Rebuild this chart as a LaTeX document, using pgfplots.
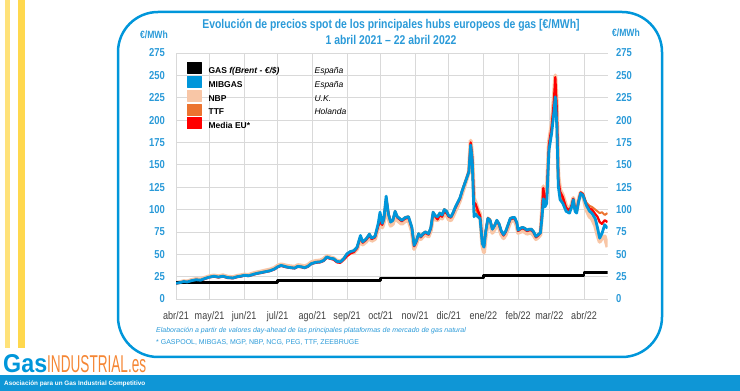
\documentclass[border=0pt]{standalone}
\usepackage{pgfplots}
\pgfplotsset{compat=1.18}
\usepackage{pgfplotstable}
\usepackage{fontspec}
\setmainfont{Liberation Sans}
\newfontfamily\narrow[FakeStretch=0.82]{Liberation Sans}
\definecolor{cblue}{HTML}{0096DA}
\definecolor{tblue}{HTML}{2A9AD8}
\definecolor{nbpc}{HTML}{F8C6A6}
\definecolor{ttfc}{HTML}{EC7430}
\definecolor{gridgray}{HTML}{D9D9D9}
\definecolor{labgray}{HTML}{404040}
\definecolor{yel}{HTML}{FFD84D}
\definecolor{orlogo}{HTML}{F58634}
\definecolor{band}{HTML}{0F96D6}

\pgfplotstableread{
d mib nbp ttf eu
0 17.5 17.8 17.6 17.4
4 18.5 18.9 18.6 18.3
7 19.5 19.9 19.6 19.3
10 19 19.6 19.2 18.7
14 20.5 21.2 20.7 20.2
18 21.5 22.3 21.7 21.2
22 21 21.8 21.2 20.5
26 23 23.8 23.2 22.6
30 24.5 25.4 24.8 24.2
34 25.5 26.3 25.7 25.1
38 24.5 25.3 24.7 24.1
42 25.5 26.5 25.8 25.2
46 24 24.9 24.2 23.6
51 23.5 24.4 23.8 23.2
55 25 25.9 25.3 24.6
58 25.5 26.4 25.8 25.1
61 26.5 27.2 26.8 26.1
65 26 26.9 26.3 25.7
69 27.5 28.6 27.8 27.1
72 28.5 29.6 28.9 28.2
76 29.5 30.6 29.9 29.1
80 30.5 31.8 30.9 30.2
84 31.5 32.9 32 31.2
88 33.5 34.6 33.9 33.1
91 36 37.3 36.4 35.6
94 37.5 38.6 37.8 37.1
97 36.5 37.8 36.9 36
100 35.5 36.9 35.9 35.2
103 35 36.4 35.4 34.7
106 34.5 35.9 34.9 34.2
109 36.5 37.8 36.9 36
112 36 37.4 36.4 35.6
115 35 36.5 35.5 34.6
118 36.5 38 37 36.1
121 39.5 41 40 39.1
125 41 42.5 41.4 40.5
129 41.5 43 42 41
132 43 44.6 43.5 42.5
135 47 48 47.2 46.3
138 45.5 46.5 45.8 45
141 45 45.5 45.2 44
144 42 42.8 42.3 41
147 41.5 42 41.8 40.5
150 45 44.5 45.2 44
153 50.5 49.5 50.6 48
156 53 51.5 53.2 51
159 54 52 54.3 52.5
162 58 56 58.4 57
165 71 67 70.5 69
167 64 61 64.5 63
170 67 64 67.5 66
173 72.5 69 72.8 71
175 68 65 68.5 67
178 70 67 70.5 69
181 85 80 83 82
182.5 97 88 94 86
184.5 84.6 80 85 83
186 90 86 90.5 89
188 115 108 114 112
190 95 91 96 96
192 86 82 87 86
194 88 84 89 88
196 98 93 98.5 97
198 92 88 92.5 91
200 90 86 90.5 89
202 88 84 88.5 87
205 91 87 91.5 90
208 92 88 92.5 91
211 80 76 80.5 79
213 60 56 61 59
215 65 62 66 64
217 73 70 73.5 72
219 70 67 70.5 69
221 73 70 73.5 72
223 75 72 75.5 74
226 73 70 73.5 72
228 80 77 80.5 79
230 97 93 97.5 96
232 93 89 93.5 92
234 92 88 92.5 89
236 96 92 96.5 94
238 94 90 94.5 92
240 100 96 100.5 98
242 98 94 98.5 96
244 93 89 93.5 92
246 92 88 92.5 91
248 97 93 97.5 96
250 103 99 103.5 102
252 108 104 108.5 107
254 113 110 113.5 112
256 121 118 121.5 121
258 128 126 128.5 128
260 135 134 135.5 135
262 142 142 142.5 143
263.6 172 177 174 175
265 155 160 157 158
266.6 92 112 100 108
268 95 108 100 106
270 92 100 96 99
272 90 95 92 93
274 62 60 63 64
275.5 58 52 59 58
277 75 70 76 75
279 90 86 91 90
281 88 84 89 88
283 78 74 79 78
285 82 78 83 82
287 88 84 88.5 87
289 84 80 84.5 83
291 76 72 76.5 75
293 72 68 72.5 71
295 76 72 76.5 75
297 83 79 83.5 82
299 90 86 90.5 89
301 91 88 91.5 90
303 91 88 91.5 90
305 85 81 85.5 84
306 77 74 77.5 76
308 79 75 79.5 78
310 80 76 80.5 79
312 79 75 79.5 78
314 77 73 77.5 76
316 78 74 78.5 77
318 78 74 78.5 77
320 75 71 75.5 74
322 70 67 70.5 69
324 72 69 72.5 71
326 74 72 74.5 74
327.5 92 100 96 100
328.6 112 126 118 124
330 103 112 106 108
331.6 107 116 110 113
333.6 166 175 170 172
336 185 195 190 192
338 208 225 215 220
339.3 226 250 240 248
340.7 193 215 205 210
342 126 138 130 134
343.6 111 122 115 120
346 107 116 110 114
349 98 104 101 102
352 96 100 98 99
354 103 106 104 105
355.4 111 113 112 112
357 98 101 100 100
358.4 96 99 98 98
360 108 110 109 109
362 118 119 119 119
364 116 116 118 117
367 105 100 108 106
370 98 92 104 101
372 96 90 103 100
375 90 82 100 95
377 80 72 98 92
379 68 64 96 86
381 73 68 97 84
383.5 83 70 94 88
386 79 58 96 86
}\prices

\begin{document}
\begin{tikzpicture}
\path[use as bounding box] (0,0) rectangle (740pt,391pt);
\begin{scope}[x=1pt,y=-1pt,yshift=391pt]
  \fill[yel!75] (5,0) rectangle (10,348);
  \fill[yel] (18,0) rectangle (25,348);
  \fill[band] (0,375) rectangle (740,391);
  \draw[cblue, line width=2.5pt, rounded corners=40pt] (118,12) rectangle (662,357);
  \node[anchor=west, inner sep=0pt, text=white] at (4,383.5) {\resizebox{141pt}{!}{\bfseries Asociación para un Gas Industrial Competitivo}};
  \node[anchor=base west, inner sep=0pt, text=cblue] at (3,373) {\resizebox{44pt}{18pt}{\bfseries Gas}};
  \node[anchor=base west, inner sep=0pt, text=orlogo] at (47,373) {\resizebox{99pt}{17pt}{INDUSTRIAL.es}};
  \node[text=tblue, font=\narrow\bfseries\fontsize{12.7}{14}\selectfont] at (391,25) {Evolución de precios spot de los principales hubs europeos de gas [€/MWh]};
  \node[text=tblue, font=\narrow\bfseries\fontsize{12.7}{14}\selectfont] at (391,39.5) {1 abril 2021 – 22 abril 2022};
  \node[text=tblue, font=\narrow\bfseries\fontsize{10.5}{12}\selectfont] at (154,34.5) {€/MWh};
  \node[text=tblue, font=\narrow\bfseries\fontsize{10.5}{12}\selectfont] at (626,33) {€/MWh};
  \node[anchor=west, inner sep=0pt, text=tblue, font=\fontsize{7}{8}\selectfont\itshape] at (156,330.5) {Elaboración a partir de valores day-ahead de las principales plataformas de mercado de gas natural};
  \node[anchor=west, inner sep=0pt, text=tblue, font=\fontsize{7}{8}\selectfont] at (156,342.5) {* GASPOOL, MIBGAS, MGP, NBP, NCG, PEG, TTF, ZEEBRUGE};
\end{scope}

\begin{axis}[at={(176pt,92pt)}, anchor=south west, scale only axis,
  width=431.5pt, height=246pt,
  xmin=0, xmax=386, ymin=0, ymax=275,
  xtick={0,30,61,91,122,153,183,214,244,275,306,334,365},
  xticklabels={abr/21,may/21,jun/21,jul/21,ago/21,sep/21,oct/21,nov/21,dic/21,ene/22,feb/22,mar/22,abr/22},
  ytick={0,25,...,275},
  grid=major, grid style={draw=gridgray, line width=0.8pt},
  axis line style={draw=none}, tick style={draw=none},
  /pgf/number format/assume math mode=true,
  yticklabel style={text=tblue, font=\narrow\bfseries\fontsize{11.5}{12}\selectfont, xshift=-7.5pt},
  xticklabel style={text=labgray, font=\narrow\fontsize{11}{12}\selectfont, yshift=-9pt},
  legend style={at={(0.0255,0.9634)}, anchor=north west, draw=none, fill=none, inner sep=0pt,
    font=\fontsize{8.5}{10}\selectfont, row sep=-2.3pt, column sep=5pt,
    nodes={inner ysep=0pt, text height=9pt, text depth=4.75pt}},
  legend cell align=left,
  line join=round,
]
\addlegendimage{legend image code/.code={\fill[black] (0pt,-2pt) rectangle (14pt,9pt);}}
\addlegendentry{\makebox[106pt][l]{\textbf{GAS \textit{f(Brent - €/\$)}}}\textit{España}}
\addlegendimage{legend image code/.code={\fill[cblue] (0pt,-2pt) rectangle (14pt,9pt);}}
\addlegendentry{\makebox[106pt][l]{\textbf{MIBGAS}}\textit{España}}
\addlegendimage{legend image code/.code={\fill[nbpc] (0pt,-2pt) rectangle (14pt,9pt);}}
\addlegendentry{\makebox[106pt][l]{\textbf{NBP}}\textit{U.K.}}
\addlegendimage{legend image code/.code={\fill[ttfc] (0pt,-2pt) rectangle (14pt,9pt);}}
\addlegendentry{\makebox[106pt][l]{\textbf{TTF}}\textit{Holanda}}
\addlegendimage{legend image code/.code={\fill[red] (0pt,-2pt) rectangle (14pt,9pt);}}
\addlegendentry{\textbf{Media EU*}}

\addplot[nbpc, line width=4pt, forget plot] table[x=d,y=nbp]{\prices};
\addplot[ttfc, line width=2pt, forget plot] table[x=d,y=ttf]{\prices};
\addplot[red, line width=2.3pt, forget plot] table[x=d,y=eu]{\prices};
\addplot[black, line width=2.8pt, const plot, forget plot] coordinates {(0,18)(91,21)(183,23.5)(275,26)(365,29.5)(386,29.5)};
\addplot[cblue, line width=2.8pt, forget plot] table[x=d,y=mib]{\prices};
\end{axis}

\begin{axis}[at={(176pt,92pt)}, anchor=south west, scale only axis,
  width=431.5pt, height=246pt,
  xmin=0, xmax=386, ymin=0, ymax=275,
  axis y line*=right, axis x line=none,
  ytick={0,25,...,275},
  axis line style={draw=none}, tick style={draw=none},
  /pgf/number format/assume math mode=true,
  yticklabel style={text=tblue, font=\narrow\bfseries\fontsize{11.5}{12}\selectfont, xshift=5pt},
]
\addplot[draw=none] coordinates {(0,0)};
\end{axis}
\end{tikzpicture}
\end{document}
